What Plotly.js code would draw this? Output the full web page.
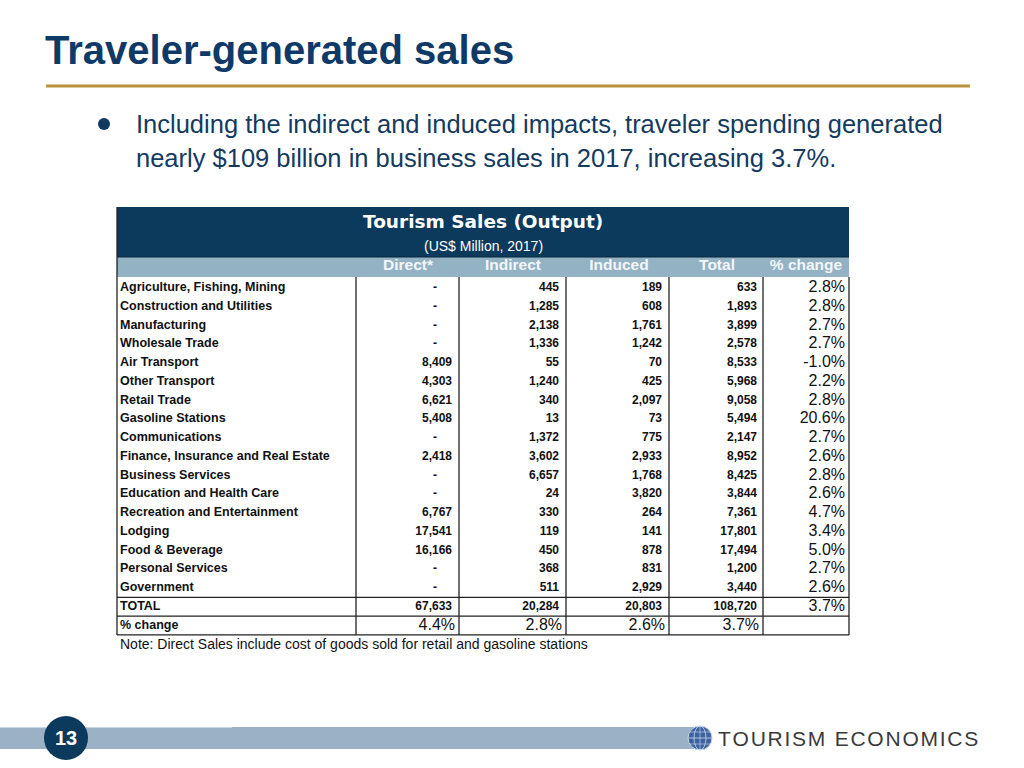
<!DOCTYPE html>
<html>
<head>
<meta charset="utf-8">
<script src="https://cdn.plot.ly/plotly-3.0.1.min.js"></script>
<style>
html,body{margin:0;padding:0;background:#fff;}
#chart{width:1024px;height:768px;}
</style>
</head>
<body>
<div id="chart"></div>
<script>
// ---------------- DATA ----------------
const sectors = ["Agriculture, Fishing, Mining","Construction and Utilities","Manufacturing","Wholesale Trade","Air Transport","Other Transport","Retail Trade","Gasoline Stations","Communications","Finance, Insurance and Real Estate","Business Services","Education and Health Care","Recreation and Entertainment","Lodging","Food & Beverage","Personal Services","Government"];
const direct   = [null,null,null,null,8409,4303,6621,5408,null,2418,null,null,6767,17541,16166,null,null];
const indirect = [445,1285,2138,1336,55,1240,340,13,1372,3602,6657,24,330,119,450,368,511];
const induced  = [189,608,1761,1242,70,425,2097,73,775,2933,1768,3820,264,141,878,831,2929];
const total    = [633,1893,3899,2578,8533,5968,9058,5494,2147,8952,8425,3844,7361,17801,17494,1200,3440];
const pctChange = [2.8,2.8,2.7,2.7,-1.0,2.2,2.8,20.6,2.7,2.6,2.8,2.6,4.7,3.4,5.0,2.7,2.6];
const columnHeaders = ["Direct*","Indirect","Induced","Total","% change"];
const totalLabel = "TOTAL";
const totalRow = [67633,20284,20803,108720];
const totalPct = 3.7;
const pctRowLabel = "% change";
const pctRow = [4.4,2.8,2.6,3.7];
const slideTitle = "Traveler-generated sales";
const bulletLines = ["Including the indirect and induced impacts, traveler spending generated","nearly $109 billion in business sales in 2017, increasing 3.7%."];
const tableTitle = "Tourism Sales (Output)";
const tableSubtitle = "(US$ Million, 2017)";
const note = "Note: Direct Sales include cost of goods sold for retail and gasoline stations";
const pageNumber = "13";
const logoText = "TOURISM ECONOMICS";

// ---------------- LAYOUT CONSTANTS ----------------
const SANS = '"Liberation Sans", Arial, sans-serif';
const WIDE = '"DejaVu Sans", Verdana, sans-serif';
const NAVY = '#0c3a5c';
const LIGHT = '#93b2c4';
const rowTop0 = 288, rowH = 18.75;
const colRight = [452, 559, 662, 757, 845];
const pctRowRight = [455, 562, 665, 759];
const dashX = 435;
const labelX = 120;
const vLines = [356, 459, 566, 669, 763];
const tblL = 117, tblR = 849;
const rowY = i => rowTop0 + i * rowH;
const fmt = v => v.toLocaleString('en-US');
const pct = v => v.toFixed(1) + '%';

const labelFont = {family: SANS, size: 12.5, color: '#111', weight: 700};
const numFont = {family: SANS, size: 12, color: '#111', weight: 700};
const pctFont = {family: SANS, size: 16, color: '#111'};

const traces = [];
function textTrace(xs, ys, texts, pos, font) {
  traces.push({type: 'scatter', mode: 'text', x: xs, y: ys, text: texts,
    textposition: pos, textfont: font, hoverinfo: 'skip', showlegend: false, cliponaxis: false});
}
const n = sectors.length;
const ys = sectors.map((_, i) => rowY(i));
textTrace(ys.map(() => labelX), ys, sectors, 'middle right', labelFont);
const dIdx = direct.map((v, i) => i).filter(i => direct[i] !== null);
const dashIdx = direct.map((v, i) => i).filter(i => direct[i] === null);
textTrace(dIdx.map(() => colRight[0]), dIdx.map(rowY), dIdx.map(i => fmt(direct[i])), 'middle left', numFont);
textTrace(dashIdx.map(() => dashX), dashIdx.map(rowY), dashIdx.map(() => '-'), 'middle center', numFont);
[indirect, induced, total].forEach((arr, c) => {
  textTrace(ys.map(() => colRight[c + 1]), ys, arr.map(fmt), 'middle left', numFont);
});
textTrace(ys.map(() => colRight[4]), ys, pctChange.map(pct), 'middle left', pctFont);
const yTot = rowY(n), yPct = rowY(n + 1);
textTrace([labelX], [yTot], [totalLabel], 'middle right', labelFont);
textTrace(colRight.slice(0, 4), totalRow.map(() => yTot), totalRow.map(fmt), 'middle left', numFont);
textTrace([colRight[4]], [yTot], [pct(totalPct)], 'middle left', pctFont);
textTrace([labelX], [yPct], [pctRowLabel], 'middle right', labelFont);
textTrace(pctRowRight, pctRow.map(() => yPct), pctRow.map(pct), 'middle left', pctFont);
const hdrX = [408, 513, 619, 717, 806];
textTrace(hdrX, hdrX.map(() => 266.5), columnHeaders, 'middle center', {family: SANS, size: 15.5, color: '#f2f6f9', weight: 700});

// ---------------- SHAPES ----------------
const tblTopBody = 277;
const tblBottom = rowY(n + 1) + rowH / 2;
const shapes = [];
const bg = (o) => Object.assign({layer: 'below', xref: 'x', yref: 'y'}, o);
shapes.push(bg({type: 'line', x0: 46, x1: 970, y0: 86, y1: 86, line: {color: '#b8923a', width: 3}}));
shapes.push(bg({type: 'circle', x0: 98, x1: 110, y0: 118, y1: 130, fillcolor: '#123a60', line: {width: 0}}));
shapes.push(bg({type: 'rect', x0: tblL, x1: tblR, y0: 207, y1: 257, fillcolor: NAVY, line: {width: 0}}));
shapes.push(bg({type: 'rect', x0: tblL, x1: tblR, y0: 257, y1: tblTopBody, fillcolor: LIGHT, line: {width: 0}}));
shapes.push(bg({type: 'line', x0: tblL, x1: tblR, y0: 257, y1: 257, line: {color: '#06263d', width: 1}}));
const lineStyle = {color: '#222', width: 1.3};
shapes.push(bg({type: 'line', x0: tblL, x1: tblL, y0: 207, y1: tblBottom, line: lineStyle}));
shapes.push(bg({type: 'line', x0: tblR, x1: tblR, y0: tblTopBody, y1: tblBottom, line: lineStyle}));
vLines.forEach(x => shapes.push(bg({type: 'line', x0: x, x1: x, y0: tblTopBody, y1: tblBottom, line: lineStyle})));
[rowY(n) - rowH / 2, rowY(n) + rowH / 2, tblBottom].forEach(y =>
  shapes.push(bg({type: 'line', x0: tblL, x1: tblR, y0: y, y1: y, line: lineStyle})));
// footer
shapes.push(bg({type: 'rect', x0: 0, x1: 700, y0: 727, y1: 749, fillcolor: '#9bb1c5', line: {width: 0}}));
shapes.push(bg({type: 'line', x0: 0, x1: 232, y0: 727.5, y1: 727.5, line: {color: '#c9d6e2', width: 1}}));
shapes.push(bg({type: 'circle', x0: 44, x1: 88, y0: 716, y1: 760, fillcolor: NAVY, line: {width: 0}}));
// globe
shapes.push(bg({type: 'circle', x0: 688, x1: 712, y0: 726, y1: 750, fillcolor: '#3d62a0', line: {color: '#c7d3e6', width: 1}}));
shapes.push(bg({type: 'circle', x0: 694, x1: 706, y0: 726, y1: 750, line: {color: '#d3ddee', width: 0.8}}));
shapes.push(bg({type: 'line', x0: 688, x1: 712, y0: 738, y1: 738, line: {color: '#d3ddee', width: 0.8}}));
shapes.push(bg({type: 'line', x0: 690, x1: 710, y0: 732, y1: 732, line: {color: '#d3ddee', width: 0.6}}));
shapes.push(bg({type: 'line', x0: 690, x1: 710, y0: 744, y1: 744, line: {color: '#d3ddee', width: 0.6}}));
shapes.push(bg({type: 'line', x0: 700, x1: 700, y0: 726, y1: 750, line: {color: '#d3ddee', width: 0.6}}));

// ---------------- ANNOTATIONS ----------------
const ann = [];
function A(x, y, text, font, xanchor, yanchor) {
  ann.push({xref: 'x', yref: 'y', x: x, y: y, text: text, showarrow: false, font: font,
    xanchor: xanchor || 'left', yanchor: yanchor || 'middle'});
}
A(43, 50, slideTitle, {family: SANS, size: 40, color: '#0f3a68', weight: 700});
A(134, 124, bulletLines[0], {family: SANS, size: 25.5, color: '#143a5f'});
A(134, 158, bulletLines[1], {family: SANS, size: 25.5, color: '#143a5f'});
A(483, 221, tableTitle, {family: WIDE, size: 18.5, color: '#ffffff', weight: 700}, 'center');
A(483, 246, tableSubtitle, {family: SANS, size: 14, color: '#ffffff'}, 'center');
A(118, 644, note, {family: SANS, size: 14, color: '#111'});
A(66, 738, pageNumber, {family: SANS, size: 20, color: '#ffffff', weight: 700}, 'center');
A(716, 738, logoText.split('').join('\u200A'), {family: SANS, size: 21, color: '#3a3a3a'});

const layout = {
  width: 1024, height: 768,
  margin: {l: 0, r: 0, t: 0, b: 0, pad: 0},
  paper_bgcolor: '#ffffff', plot_bgcolor: '#ffffff',
  xaxis: {range: [0, 1024], visible: false, fixedrange: true},
  yaxis: {range: [768, 0], visible: false, fixedrange: true},
  shapes: shapes, annotations: ann, showlegend: false
};
Plotly.newPlot('chart', traces, layout, {staticPlot: true});
</script>
</body>
</html>
